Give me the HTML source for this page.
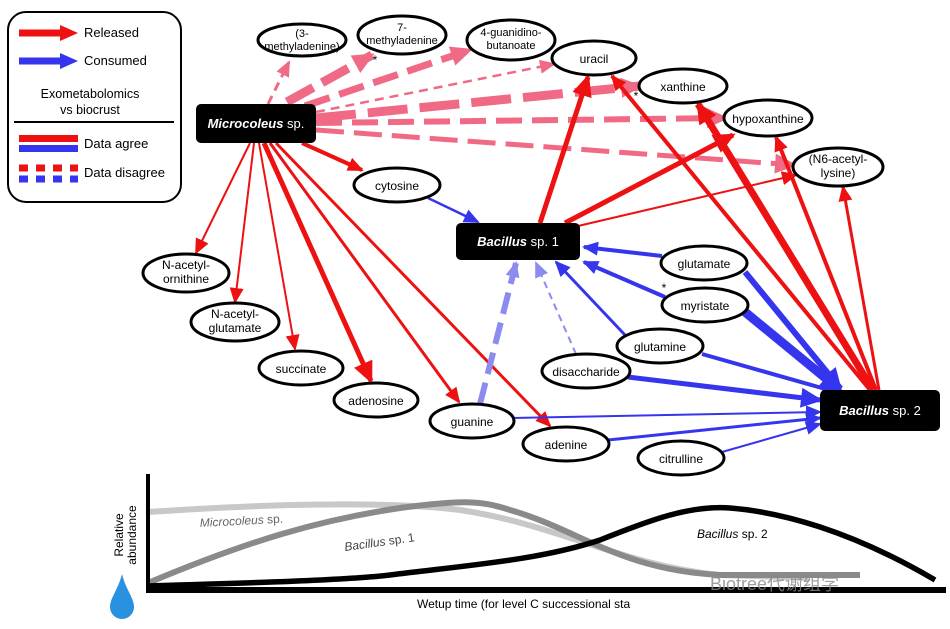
<!DOCTYPE html><html><head><meta charset="utf-8"><style>body{margin:0;background:#fff}svg{display:block}text{font-family:"Liberation Sans","Noto Sans CJK SC",sans-serif}</style></head><body>
<svg width="950" height="629" viewBox="0 0 950 629" xmlns="http://www.w3.org/2000/svg">
<defs>
<marker id="r" markerUnits="userSpaceOnUse" markerWidth="16" markerHeight="14" refX="14" refY="7" orient="auto"><path d="M0,0L16,7L0,14z" fill="#ee1111"/></marker>
<marker id="R" markerUnits="userSpaceOnUse" markerWidth="22" markerHeight="20" refX="19" refY="10" orient="auto"><path d="M0,0L22,10L0,20z" fill="#ee1111"/></marker>
<marker id="p" markerUnits="userSpaceOnUse" markerWidth="16" markerHeight="14" refX="14" refY="7" orient="auto"><path d="M0,0L16,7L0,14z" fill="#f06a85"/></marker>
<marker id="P" markerUnits="userSpaceOnUse" markerWidth="22" markerHeight="20" refX="19" refY="10" orient="auto"><path d="M0,0L22,10L0,20z" fill="#f06a85"/></marker>
<marker id="b" markerUnits="userSpaceOnUse" markerWidth="16" markerHeight="14" refX="14" refY="7" orient="auto"><path d="M0,0L16,7L0,14z" fill="#3535ee"/></marker>
<marker id="B" markerUnits="userSpaceOnUse" markerWidth="22" markerHeight="20" refX="19" refY="10" orient="auto"><path d="M0,0L22,10L0,20z" fill="#3535ee"/></marker>
<marker id="lb" markerUnits="userSpaceOnUse" markerWidth="16" markerHeight="14" refX="14" refY="7" orient="auto"><path d="M0,0L16,7L0,14z" fill="#8c8cf0"/></marker>
</defs>
<rect x="8" y="12" width="173" height="190" rx="18" fill="#fff" stroke="#000" stroke-width="2"/>
<line x1="19" y1="33" x2="62" y2="33" stroke="#ee1111" stroke-width="7"/><path d="M60,25L78,33L60,41z" fill="#ee1111"/>
<text x="84" y="37" font-size="13">Released</text>
<line x1="19" y1="61" x2="62" y2="61" stroke="#3535ee" stroke-width="7"/><path d="M60,53L78,61L60,69z" fill="#3535ee"/>
<text x="84" y="65" font-size="13">Consumed</text>
<text x="90" y="98" font-size="12.5" text-anchor="middle">Exometabolomics</text>
<text x="90" y="114" font-size="12.5" text-anchor="middle">vs biocrust</text>
<line x1="14" y1="122" x2="174" y2="122" stroke="#000" stroke-width="2"/>
<rect x="19" y="135" width="59" height="7" fill="#ee1111"/><rect x="19" y="145" width="59" height="7" fill="#3535ee"/>
<text x="84" y="148" font-size="13">Data agree</text>
<g stroke-width="7" stroke-dasharray="9,8"><line x1="19" y1="168" x2="78" y2="168" stroke="#ee1111"/><line x1="19" y1="179" x2="78" y2="179" stroke="#3535ee"/></g>
<text x="84" y="177" font-size="13">Data disagree</text>

<g stroke="#f06a85" fill="none">
<line x1="268" y1="104" x2="289" y2="62" stroke-width="3" stroke-dasharray="9,6" marker-end="url(#p)"/>
<line x1="287" y1="102" x2="372" y2="55" stroke-width="9" stroke-dasharray="30,10" marker-end="url(#P)"/>
<line x1="305" y1="106" x2="470" y2="50" stroke-width="7" stroke-dasharray="26,10" marker-end="url(#P)"/>
<line x1="316" y1="112" x2="554" y2="64" stroke-width="2.5" stroke-dasharray="9,6" marker-end="url(#p)"/>
<line x1="316" y1="118" x2="640" y2="86" stroke-width="9" stroke-dasharray="40,12" marker-end="url(#P)"/>
<line x1="316" y1="123" x2="726" y2="118" stroke-width="6" stroke-dasharray="26,10" marker-end="url(#P)"/>
<line x1="316" y1="130" x2="794" y2="165" stroke-width="5" stroke-dasharray="28,10" marker-end="url(#P)"/>
</g>
<g stroke="#ee1111" fill="none" marker-end="url(#r)">
<line x1="302" y1="143" x2="362" y2="170" stroke-width="4"/>
<line x1="250" y1="143" x2="196" y2="253" stroke-width="2"/>
<line x1="254" y1="143" x2="235" y2="302" stroke-width="2"/>
<line x1="259" y1="143" x2="295" y2="349" stroke-width="2"/>
<line x1="264" y1="143" x2="371" y2="381" stroke-width="5" marker-end="url(#R)"/>
<line x1="270" y1="143" x2="459" y2="402" stroke-width="3"/>
<line x1="276" y1="143" x2="550" y2="426" stroke-width="3"/>
</g>
<g stroke="#ee1111" fill="none" marker-end="url(#R)">
<line x1="540" y1="223" x2="588" y2="77" stroke-width="5"/>
<line x1="565" y1="223" x2="733" y2="135" stroke-width="5"/>
<line x1="578" y1="226" x2="796" y2="175" stroke-width="2" marker-end="url(#r)"/>
</g>
<g stroke="#ee1111" fill="none" marker-end="url(#r)">
<line x1="870" y1="390" x2="612" y2="76" stroke-width="4"/>
<line x1="873" y1="390" x2="698" y2="104" stroke-width="7" marker-end="url(#R)"/>
<line x1="876" y1="390" x2="776" y2="137" stroke-width="4"/>
<line x1="879" y1="390" x2="843" y2="187" stroke-width="3"/>
</g>
<g stroke="#3535ee" fill="none" marker-end="url(#b)">
<line x1="428" y1="198" x2="478" y2="222" stroke-width="2.5"/>
<line x1="662" y1="256" x2="584" y2="247" stroke-width="4"/>
<line x1="665" y1="297" x2="584" y2="262" stroke-width="4"/>
<line x1="625" y1="335" x2="556" y2="262" stroke-width="3"/>
<line x1="745" y1="272" x2="840" y2="388" stroke-width="6" marker-end="url(#B)"/>
<line x1="745" y1="312" x2="840" y2="390" stroke-width="9" marker-end="url(#B)"/>
<line x1="702" y1="354" x2="836" y2="392" stroke-width="4"/>
<line x1="628" y1="377" x2="820" y2="400" stroke-width="5" marker-end="url(#B)"/>
<line x1="512" y1="418" x2="820" y2="412" stroke-width="2"/>
<line x1="608" y1="440" x2="820" y2="418" stroke-width="3"/>
<line x1="722" y1="452" x2="820" y2="424" stroke-width="2"/>
</g>
<g stroke="#8c8cf0" fill="none" marker-end="url(#lb)">
<line x1="480" y1="404" x2="516" y2="263" stroke-width="6" stroke-dasharray="22,9"/>
<line x1="576" y1="354" x2="536" y2="263" stroke-width="2" stroke-dasharray="7,5"/>
</g>
<rect x="196" y="104" width="120" height="39" rx="5" fill="#000"/>
<text x="256" y="128" font-size="13" fill="#fff" text-anchor="middle"><tspan font-style="italic" font-weight="bold">Microcoleus</tspan> sp.</text>
<rect x="456" y="223" width="124" height="37" rx="5" fill="#000"/>
<text x="518" y="246" font-size="13" fill="#fff" text-anchor="middle"><tspan font-style="italic" font-weight="bold">Bacillus</tspan> sp. 1</text>
<rect x="820" y="390" width="120" height="41" rx="5" fill="#000"/>
<text x="880" y="415" font-size="13" fill="#fff" text-anchor="middle"><tspan font-style="italic" font-weight="bold">Bacillus</tspan> sp. 2</text>
<g fill="#fff" stroke="#000" stroke-width="3">
<ellipse cx="302" cy="40" rx="44" ry="16"/>
<ellipse cx="402" cy="35" rx="44" ry="19"/>
<ellipse cx="511" cy="40" rx="44" ry="20"/>
<ellipse cx="594" cy="58" rx="42" ry="17"/>
<ellipse cx="683" cy="86" rx="44" ry="17"/>
<ellipse cx="768" cy="118" rx="44" ry="18"/>
<ellipse cx="838" cy="167" rx="45" ry="19"/>
<ellipse cx="397" cy="185" rx="43" ry="17"/>
<ellipse cx="186" cy="273" rx="43" ry="19"/>
<ellipse cx="235" cy="322" rx="44" ry="19"/>
<ellipse cx="301" cy="368" rx="42" ry="17"/>
<ellipse cx="376" cy="400" rx="42" ry="17"/>
<ellipse cx="472" cy="421" rx="42" ry="17"/>
<ellipse cx="566" cy="444" rx="43" ry="17"/>
<ellipse cx="681" cy="458" rx="43" ry="17"/>
<ellipse cx="704" cy="263" rx="43" ry="17"/>
<ellipse cx="705" cy="305" rx="43" ry="17"/>
<ellipse cx="660" cy="346" rx="43" ry="17"/>
<ellipse cx="586" cy="371" rx="44" ry="17"/>
</g>
<g font-size="12" text-anchor="middle">
<text x="302" y="37" font-size="11">(3-</text><text x="302" y="50" font-size="11">methyladenine)</text>
<text x="402" y="31" font-size="11">7-</text><text x="402" y="44" font-size="11">methyladenine</text>
<text x="511" y="36" font-size="11">4-guanidino-</text><text x="511" y="49" font-size="11">butanoate</text>
<text x="594" y="63">uracil</text>
<text x="683" y="91">xanthine</text>
<text x="768" y="123">hypoxanthine</text>
<text x="838" y="163">(N6-acetyl-</text><text x="838" y="177">lysine)</text>
<text x="397" y="190">cytosine</text>
<text x="186" y="269">N-acetyl-</text><text x="186" y="283">ornithine</text>
<text x="235" y="318">N-acetyl-</text><text x="235" y="332">glutamate</text>
<text x="301" y="373">succinate</text>
<text x="376" y="405">adenosine</text>
<text x="472" y="426">guanine</text>
<text x="566" y="449">adenine</text>
<text x="681" y="463">citrulline</text>
<text x="704" y="268">glutamate</text>
<text x="705" y="310">myristate</text>
<text x="660" y="351">glutamine</text>
<text x="586" y="376">disaccharide</text>
<text x="375" y="64">*</text><text x="636" y="100">*</text><text x="664" y="292">*</text>
</g>
<path d="M148,512 C250,505 380,500 460,510 C560,525 620,565 720,575 L810,578" stroke="#c8c8c8" stroke-width="6" fill="none"/>
<path d="M148,583 C250,540 320,520 400,508 C460,500 480,500 510,510 C580,530 620,570 720,575 L860,575" stroke="#8a8a8a" stroke-width="6" fill="none"/>
<path d="M148,586 C250,583 350,580 390,575 C470,565 540,560 600,540 C650,520 690,505 730,508 C780,512 850,530 935,580" stroke="#000" stroke-width="5.5" fill="none"/>
<line x1="148" y1="474" x2="148" y2="592" stroke="#000" stroke-width="4"/>
<line x1="146" y1="590" x2="946" y2="590" stroke="#000" stroke-width="6"/>
<text x="200" y="527" font-size="12" font-style="italic" fill="#666" transform="rotate(-3 200 527)">Microcoleus<tspan font-style="normal"> sp.</tspan></text>
<text x="345" y="551" font-size="12" fill="#444" transform="rotate(-8 345 551)"><tspan font-style="italic">Bacillus</tspan> sp. 1</text>
<text x="697" y="538" font-size="12" fill="#000"><tspan font-style="italic">Bacillus</tspan> sp. 2</text>
<text x="0" y="0" font-size="12" text-anchor="middle" transform="translate(123 535) rotate(-90)">Relative</text>
<text x="0" y="0" font-size="12" text-anchor="middle" transform="translate(136 535) rotate(-90)">abundance</text>
<path d="M122,574 C118,590 110,598 110,607 A12,12 0 0 0 134,607 C134,598 126,590 122,574z" fill="#2a90e0"/>
<text x="417" y="608" font-size="12">Wetup time (for level C successional sta</text>
<text x="710" y="590" font-size="18" fill="#888" opacity="0.8">Biotree代谢组学</text>
</svg>
</body></html>
